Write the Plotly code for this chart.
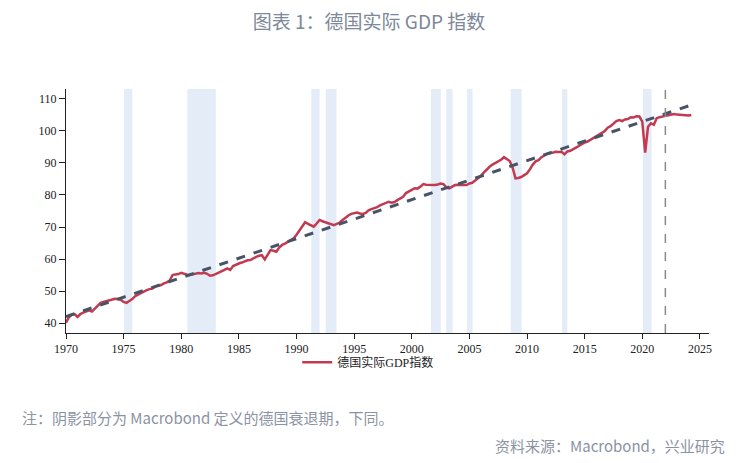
import pandas as pd
import plotly.graph_objects as go

gdp_by_year = {
    1970: [40.1, 41.8, 42.6, 42.8],
    1971: [41.9, 42.8, 43.3, 43.6],
    1972: [44.0, 43.6, 44.6, 45.6],
    1973: [46.3, 46.6, 46.9, 47.1],
    1974: [47.4, 47.6, 47.5, 47.3],
    1975: [46.6, 46.3, 46.9, 47.5],
    1976: [48.4, 48.9, 49.5, 50.0],
    1977: [50.3, 50.6, 50.8, 51.4],
    1978: [51.6, 51.9, 52.4, 52.7],
    1979: [53.3, 55.0, 55.2, 55.3],
    1980: [55.7, 55.3, 55.1, 55.0],
    1981: [55.2, 55.4, 55.6, 55.5],
    1982: [55.7, 55.4, 54.8, 54.9],
    1983: [55.3, 55.8, 56.0, 56.6],
    1984: [57.1, 56.6, 57.8, 58.3],
    1985: [58.6, 58.9, 59.3, 59.6],
    1986: [59.7, 60.3, 60.7, 61.0],
    1987: [61.2, 59.9, 61.5, 62.8],
    1988: [62.6, 62.3, 63.6, 64.4],
    1989: [64.8, 65.4, 66.0, 66.5],
    1990: [67.6, 69.0, 70.2, 71.5],
    1991: [71.0, 70.6, 70.1, 71.1],
    1992: [72.2, 71.8, 71.5, 71.2],
    1993: [70.9, 70.6, 71.0, 71.4],
    1994: [72.2, 73.0, 73.6, 74.1],
    1995: [74.2, 74.5, 74.2, 74.1],
    1996: [74.4, 75.2, 75.6, 75.8],
    1997: [76.2, 76.8, 77.2, 77.6],
    1998: [77.9, 77.6, 77.8, 78.4],
    1999: [79.0, 79.4, 80.6, 81.2],
    2000: [81.6, 82.1, 82.0, 82.6],
    2001: [83.4, 83.2, 83.1, 83.0],
    2002: [83.1, 83.3, 83.6, 83.4],
    2003: [82.4, 82.1, 82.6, 83.1],
    2004: [83.2, 83.2, 83.0, 83.1],
    2005: [83.6, 83.8, 84.5, 85.2],
    2006: [86.0, 87.0, 88.0, 88.8],
    2007: [89.5, 90.0, 90.6, 91.0],
    2008: [91.8, 91.2, 90.6, 88.5],
    2009: [85.2, 85.3, 85.6, 86.2],
    2010: [86.8, 88.0, 89.5, 90.5],
    2011: [90.9, 91.8, 92.4, 92.8],
    2012: [93.0, 93.2, 93.5, 93.4],
    2013: [93.5, 92.7, 93.6, 93.8],
    2014: [94.4, 94.8, 95.3, 95.9],
    2015: [96.4, 96.7, 97.2, 97.8],
    2016: [98.3, 98.75, 99.4, 100.0],
    2017: [101.0, 101.5, 102.3, 103.1],
    2018: [103.4, 103.1, 103.6, 103.7],
    2019: [104.3, 104.2, 104.6, 104.5],
    2020: [102.9, 93.2, 101.3, 102.4],
    2021: [101.9, 104.0, 104.3, 104.4],
    2022: [104.7, 104.9, 105.2, 105.3],
    2023: [105.1, 105.0, 104.8, 104.9],
    2024: [104.8, 105.0],
}
gdp_values = [v for yr in sorted(gdp_by_year) for v in gdp_by_year[yr]]
gdp_dates = pd.period_range("1970Q1", periods=len(gdp_values), freq="Q").to_timestamp(how="start")

# Linear trend (dashed)
trend_dates = ["1970-01-01", "2024-06-01"]
trend_values = [42.0, 108.3]

# Macrobond-defined German recessions (shaded)
recessions = [
    ("1975-01-10", "1975-09-30"),
    ("1980-07-15", "1982-12-31"),
    ("1991-04-15", "1992-01-01"),
    ("1992-07-15", "1993-06-20"),
    ("2001-08-30", "2002-07-10"),
    ("2003-01-01", "2003-07-15"),
    ("2004-10-20", "2005-04-10"),
    ("2008-08-01", "2009-07-10"),
    ("2013-01-15", "2013-07-01"),
    ("2020-01-25", "2020-10-20"),
]
marker_date = "2022-01-01"

tick_years = [1970, 1975, 1980, 1985, 1990, 1995, 2000, 2005, 2010, 2015, 2020, 2025]
y_ticks = [40, 50, 60, 70, 80, 90, 100, 110]

fig = go.Figure()

for s, e in recessions:
    fig.add_shape(type="rect", xref="x", yref="paper", x0=s, x1=e, y0=0, y1=1,
                  fillcolor="#e4ecf7", line_width=0, layer="below")

fig.add_shape(type="line", xref="x", yref="paper", x0=marker_date, x1=marker_date,
              y0=0, y1=1, line=dict(color="#8a8a8a", width=1.5, dash="dash"))

fig.add_trace(go.Scatter(x=gdp_dates, y=gdp_values, mode="lines", name="德国实际GDP指数",
                         line=dict(color="#c23a50", width=2.5)))
fig.add_trace(go.Scatter(x=trend_dates, y=trend_values, mode="lines", showlegend=False,
                         line=dict(color="#475467", width=3, dash="dash")))

fig.update_layout(
    width=738, height=463,
    margin=dict(l=66, r=29, t=89, b=130),
    paper_bgcolor="white", plot_bgcolor="white",
    font=dict(family="Liberation Serif, Noto Sans CJK SC", size=12, color="#222"),
    title=dict(text="图表 1：德国实际 GDP 指数", x=0.5, xanchor="center",
               y=1 - 22 / 463, yanchor="middle",
               font=dict(family="Noto Sans CJK SC", size=19, color="#7d8898", weight="normal")),
    showlegend=True,
    legend=dict(orientation="h", x=0.47, xanchor="center", y=-0.12, yanchor="middle",
                font=dict(family="Liberation Serif, Noto Sans CJK SC", size=12, color="#222"),
                bgcolor="rgba(0,0,0,0)"),
    xaxis=dict(type="date", range=["1970-01-01", "2025-10-15"],
               tickvals=[f"{y}-01-01" for y in tick_years], ticktext=[str(y) for y in tick_years],
               showgrid=False, zeroline=False, showline=True, linecolor="#222", linewidth=1,
               ticks="outside", ticklen=5, tickcolor="#222"),
    yaxis=dict(range=[36.9, 113.1], tickvals=y_ticks,
               showgrid=False, zeroline=False, showline=True, linecolor="#222", linewidth=1,
               ticks="outside", ticklen=6, tickcolor="#222"),
    annotations=[
        dict(text="注：阴影部分为 Macrobond 定义的德国衰退期，下同。", xref="paper", yref="paper",
             x=(20 - 66) / 643, y=(333 - 417) / 244, xanchor="left", yanchor="middle",
             showarrow=False, font=dict(family="Noto Sans CJK SC", size=15, color="#8a93a3")),
        dict(text="资料来源：Macrobond，兴业研究", xref="paper", yref="paper",
             x=(727 - 66) / 643, y=(333 - 445) / 244, xanchor="right", yanchor="middle",
             showarrow=False, font=dict(family="Noto Sans CJK SC", size=15, color="#8a93a3")),
    ],
)

fig.write_html("out.html")
